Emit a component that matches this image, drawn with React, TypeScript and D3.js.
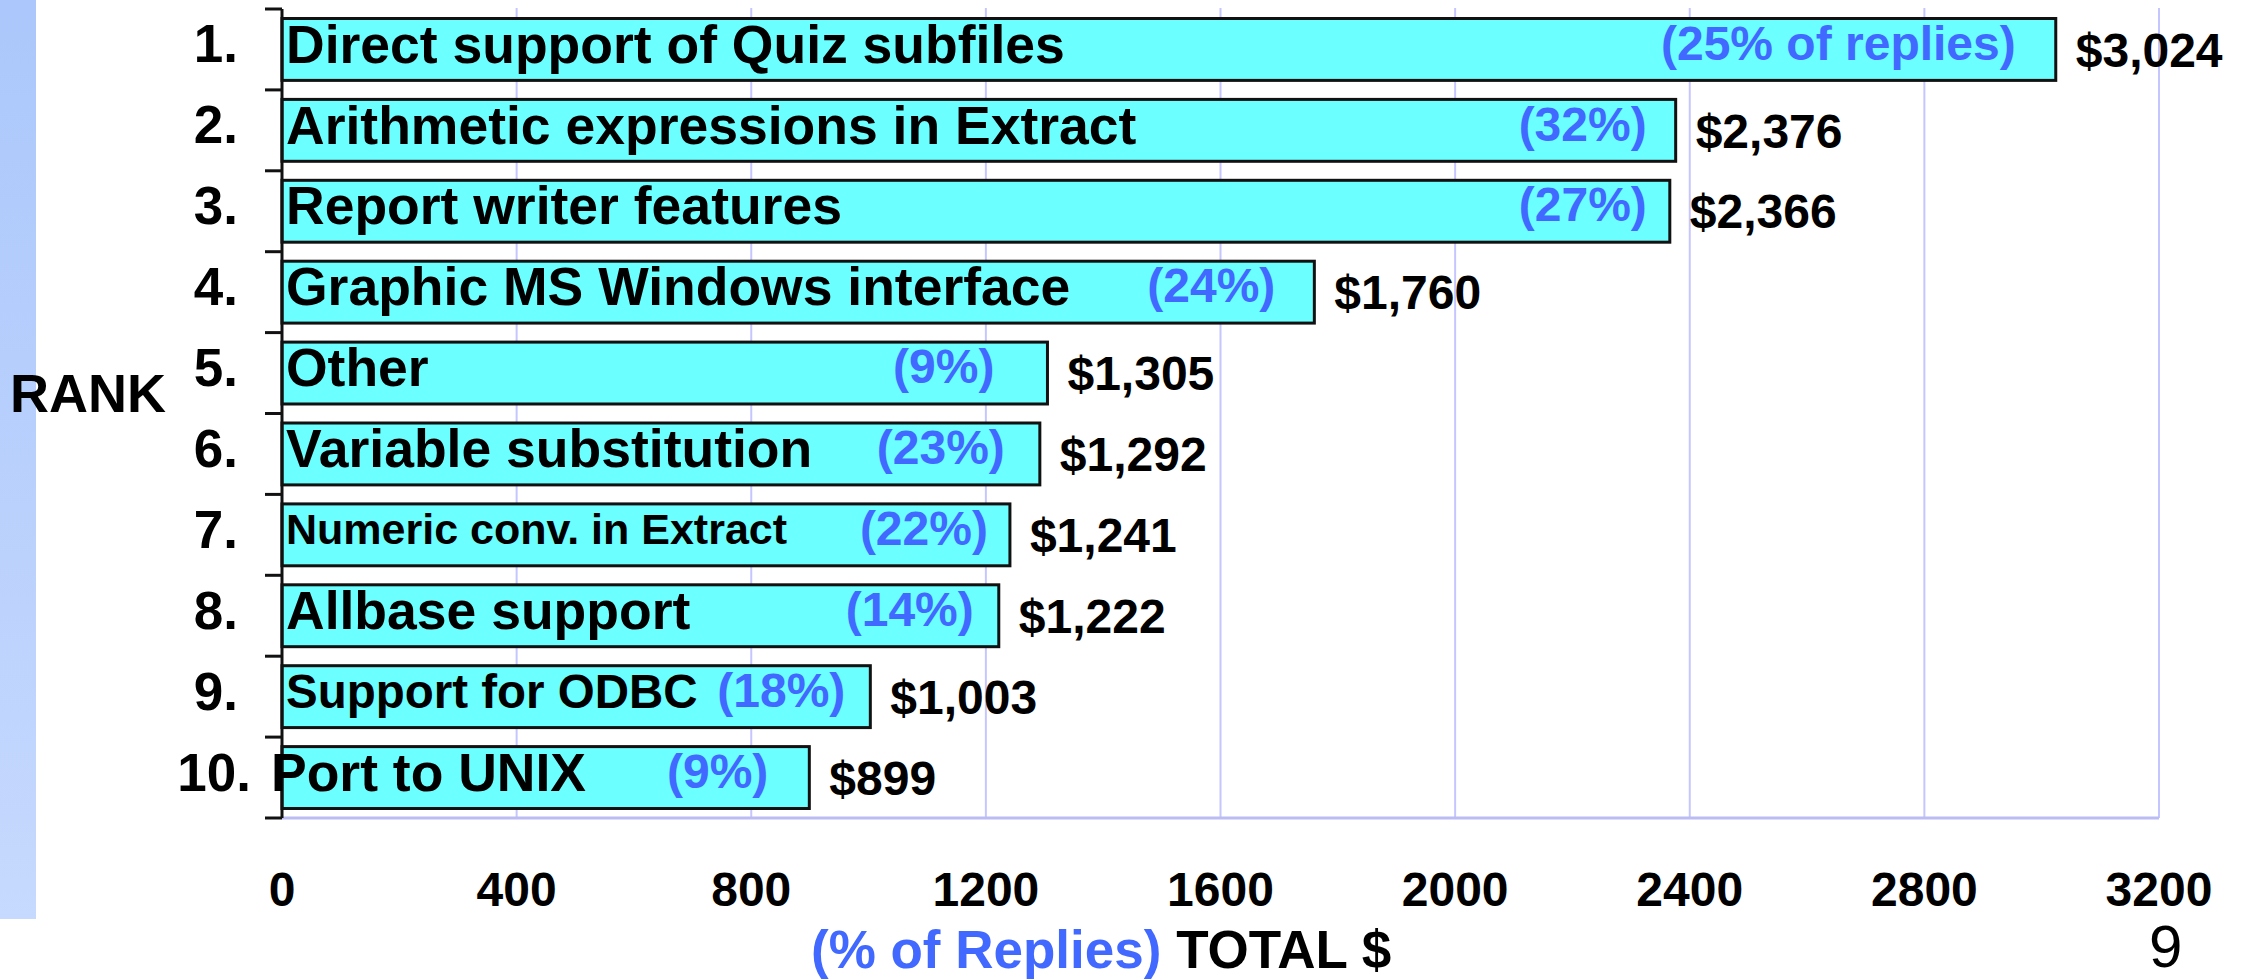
import React from "react";
import * as d3 from "d3";

// ---- data ----
const ranks = ["1.", "2.", "3.", "4.", "5.", "6.", "7.", "8.", "9.", "10."];
const features = [
  "Direct support of Quiz subfiles",
  "Arithmetic expressions in Extract",
  "Report writer features",
  "Graphic MS Windows interface",
  "Other",
  "Variable substitution",
  "Numeric conv. in Extract",
  "Allbase support",
  "Support for ODBC",
  "Port to UNIX",
];
const totals = [3024, 2376, 2366, 1760, 1305, 1292, 1241, 1222, 1003, 899];
const replyPct = [25, 32, 27, 24, 9, 23, 22, 14, 18, 9];
const xTicks = [0, 400, 800, 1200, 1600, 2000, 2400, 2800, 3200];

// ---- layout / style (not data) ----
const labelSize = [53.5, 53.5, 53.5, 53.5, 53.5, 53.5, 43, 53.5, 47.5, 53.5];
const labelDx = [0, 0, 0, 0, 0, 0, 0, 0, 0, -15];
const rankDx = [0, 0, 0, 0, 0, 0, 0, 0, 0, 13];
const pctGap = [40, 29, 23, 39, 53, 35, 22, 25, 25, 41];

const W = 2250;
const H = 980;
const FONT = "'Liberation Sans', Arial, Helvetica, sans-serif";
const BAR_FILL = "#6cffff";
const PCT_COLOR = "#4169ff";
const GRID = "#c6c6ff";
const VAL_FS = 48;
const PCT_FS = 48;
const RANK_FS = 53;

export default function App() {
  const x = d3.scaleLinear().domain([0, 3200]).range([282, 2159]);
  const y = d3
    .scaleBand<number>()
    .domain(d3.range(features.length))
    .range([9, 818])
    .paddingInner(0.235)
    .paddingOuter(0.1175);
  const step = y.step();
  const bw = y.bandwidth();
  const fmt = d3.format("$,");
  const x0 = x(0);
  const boundaries = d3.range(features.length + 1).map((i) => 9 + i * step);

  return (
    <svg
      width={W}
      height={H}
      style={{ position: "absolute", left: 0, top: 0, background: "#fff" }}
      fontFamily={FONT}
    >
      <defs>
        <linearGradient id="band" x1="0" y1="0" x2="0" y2="1">
          <stop offset="0" stopColor="#abc7fb" />
          <stop offset="1" stopColor="#c6d9fe" />
        </linearGradient>
      </defs>
      <rect x={0} y={0} width={36} height={919} fill="url(#band)" />

      {/* grid lines */}
      {xTicks.slice(1).map((t) => (
        <line key={t} x1={x(t)} x2={x(t)} y1={8} y2={818} stroke={GRID} strokeWidth={2} />
      ))}
      <line x1={x0} x2={x(3200)} y1={818} y2={818} stroke="#bcbcf4" strokeWidth={3} />

      {/* bars */}
      {totals.map((v, i) => {
        const yy = y(i)!;
        return (
          <rect
            key={i}
            x={x0}
            y={yy}
            width={x(v) - x0}
            height={bw}
            fill={BAR_FILL}
            stroke="#111"
            strokeWidth={3}
          />
        );
      })}

      {/* y axis */}
      <line x1={x0} x2={x0} y1={boundaries[0]} y2={boundaries[boundaries.length - 1]} stroke="#111" strokeWidth={3} />
      {boundaries.map((b, i) => (
        <line key={i} x1={265} x2={x0} y1={b} y2={b} stroke="#111" strokeWidth={3} />
      ))}

      {/* labels */}
      {features.map((f, i) => {
        const c = y(i)! + bw / 2;
        return (
          <g key={i} fontWeight="bold">
            <text
              x={238 + rankDx[i]}
              y={c - 6 + 0.358 * RANK_FS}
              fontSize={RANK_FS}
              textAnchor="end"
              fill="#000"
            >
              {ranks[i]}
            </text>
            <text
              x={x0 + 4 + labelDx[i]}
              y={c - 6 + 0.358 * labelSize[i]}
              fontSize={labelSize[i]}
              fill="#000"
            >
              {f}
            </text>
            <text
              x={x(totals[i]) - pctGap[i]}
              y={c - 7 + 0.358 * PCT_FS}
              fontSize={PCT_FS}
              textAnchor="end"
              fill={PCT_COLOR}
            >
              {i === 0 ? `(${replyPct[i]}% of replies)` : `(${replyPct[i]}%)`}
            </text>
            <text x={x(totals[i]) + 20} y={c + 0.358 * VAL_FS} fontSize={VAL_FS} fill="#000">
              {fmt(totals[i])}
            </text>
          </g>
        );
      })}

      {/* RANK */}
      <text x={10} y={412} fontSize={54} fontWeight="bold" fill="#000">
        RANK
      </text>

      {/* x tick labels */}
      {xTicks.map((t) => (
        <text key={t} x={x(t)} y={906} fontSize={48} fontWeight="bold" textAnchor="middle" fill="#000">
          {t}
        </text>
      ))}

      {/* x axis title */}
      <text x={811} y={968} fontSize={53} fontWeight="bold">
        <tspan fill={PCT_COLOR}>(% of Replies)</tspan>
        <tspan fill="#000"> TOTAL $</tspan>
      </text>

      {/* page number */}
      <text x={2149} y={967} fontSize={60} fill="#000">
        9
      </text>
    </svg>
  );
}
